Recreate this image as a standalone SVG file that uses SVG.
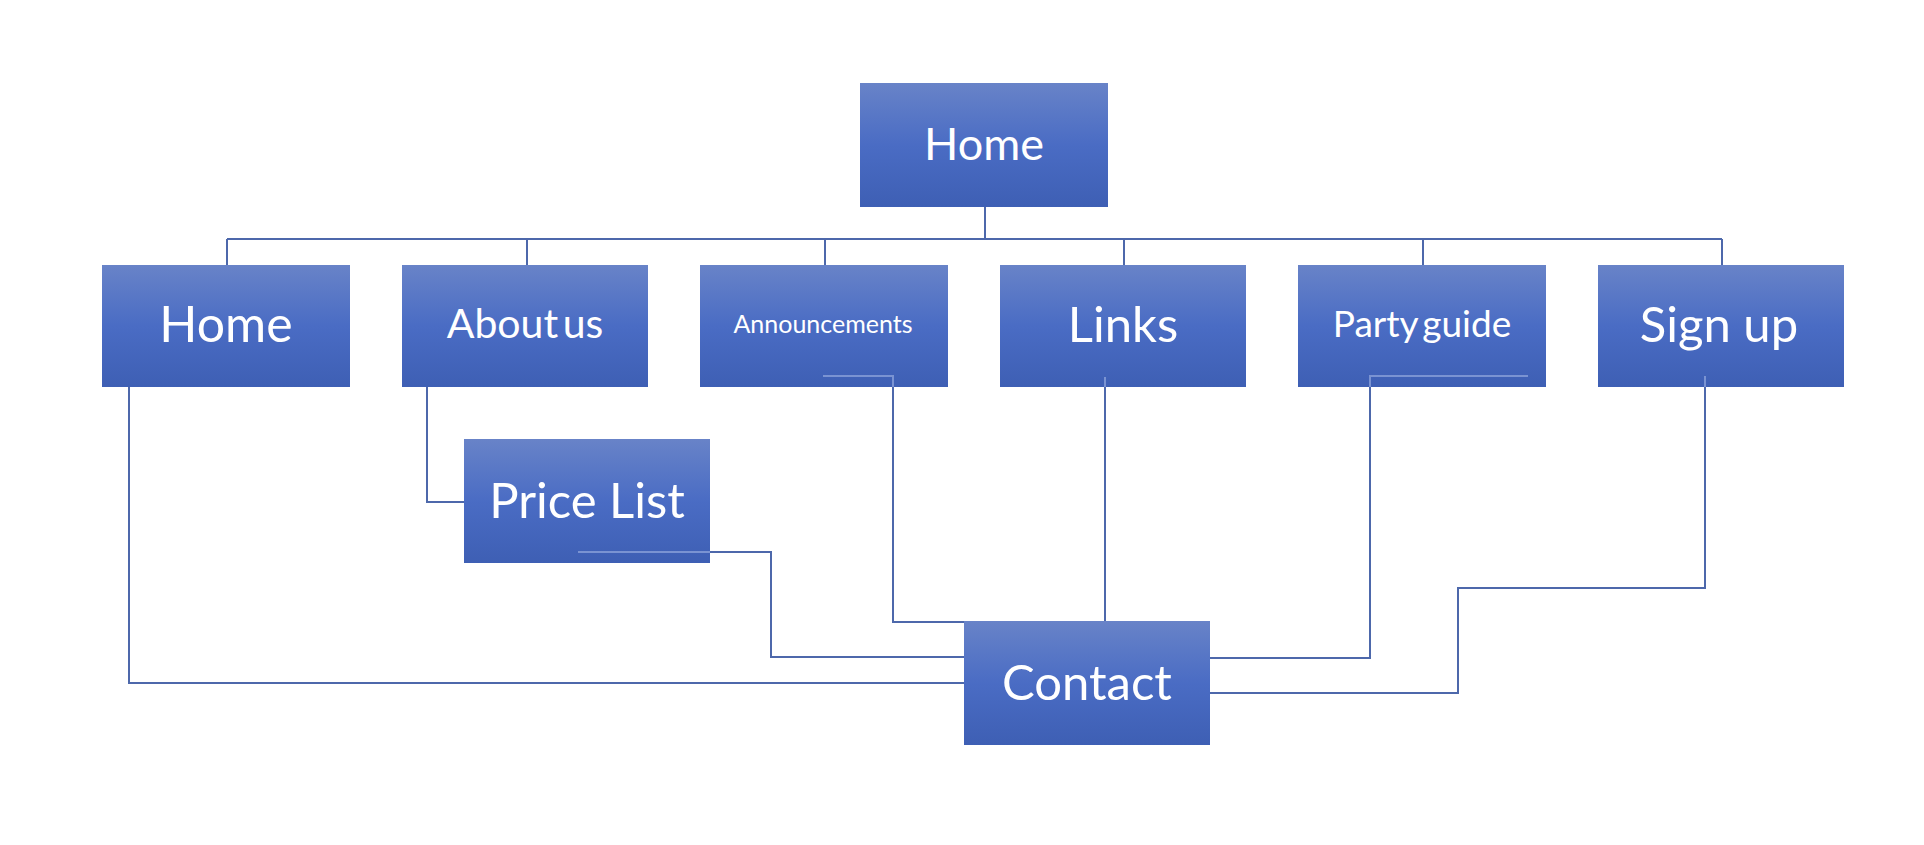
<svg xmlns="http://www.w3.org/2000/svg" width="1924" height="845" viewBox="0 0 1924 845">
<defs>
<linearGradient id="g" x1="0" y1="0" x2="0" y2="1">
<stop offset="0" stop-color="#6883c8"/>
<stop offset="0.5" stop-color="#4a6cc4"/>
<stop offset="1" stop-color="#3e5fb4"/>
</linearGradient>
</defs>
<style>
.box{fill:url(#g);}
.t{fill:#ffffff;font-family:Lato,"Open Sans","Liberation Sans",sans-serif;text-anchor:middle;}
.c{fill:none;stroke:#4d68ab;stroke-width:2;}
.in{fill:none;stroke:#7a93d2;stroke-width:2;}
</style>
<rect width="1924" height="845" fill="#ffffff"/>
<g id="connectors">
<path class="c" d="M985 207V239" stroke-width="3"/>
<path class="c" d="M227 239H1722" stroke-width="2.5" stroke="#4662a3"/>
<path class="c" d="M227 239V265M527 239V265M825 239V265M1124 239V265M1423 239V265M1722 239V265"/>
<path class="c" d="M129 387V683H964"/>
<path class="c" d="M427 387V502H464"/>
<path class="c" d="M710 552H771V657H964"/>
<path class="c" d="M893 387V622H964"/>
<path class="c" d="M1105 387V621"/>
<path class="c" d="M1370 387V658H1210"/>
<path class="c" d="M1705 387V588H1458V693H1210"/>
</g>
<g id="n-home-top"><rect class="box" x="860" y="83" width="248" height="124"/><text class="t" x="984" y="160" font-size="45">Home</text></g>
<g id="n-home"><rect class="box" x="102" y="265" width="248" height="122"/><text class="t" x="226" y="342" font-size="50">Home</text></g>
<g id="n-about"><rect class="box" x="402" y="265" width="246" height="122"/><text class="t" x="525" y="338" font-size="41" word-spacing="-6">About us</text></g>
<g id="n-announcements"><rect class="box" x="700" y="265" width="248" height="122"/><text class="t" x="823" y="333" font-size="25">Announcements</text></g>
<g id="n-links"><rect class="box" x="1000" y="265" width="246" height="122"/><text class="t" x="1123" y="342" font-size="49">Links</text></g>
<g id="n-party"><rect class="box" x="1298" y="265" width="248" height="122"/><text class="t" x="1422" y="337" font-size="37" word-spacing="-5">Party guide</text></g>
<g id="n-signup"><rect class="box" x="1598" y="265" width="246" height="122"/><text class="t" x="1719" y="342" font-size="49">Sign up</text></g>
<g id="n-price"><rect class="box" x="464" y="439" width="246" height="124"/><text class="t" x="587" y="518" font-size="49">Price List</text></g>
<g id="n-contact"><rect class="box" x="964" y="621" width="246" height="124"/><text class="t" x="1087" y="700" font-size="49">Contact</text></g>
<g id="inner-lines">
<path class="in" d="M578 552H710"/>
<path class="in" d="M823 376H893V387"/>
<path class="in" d="M1105 377V387"/>
<path class="in" d="M1528 376H1370V387"/>
<path class="in" d="M1705 376V387"/>
</g>
</svg>
